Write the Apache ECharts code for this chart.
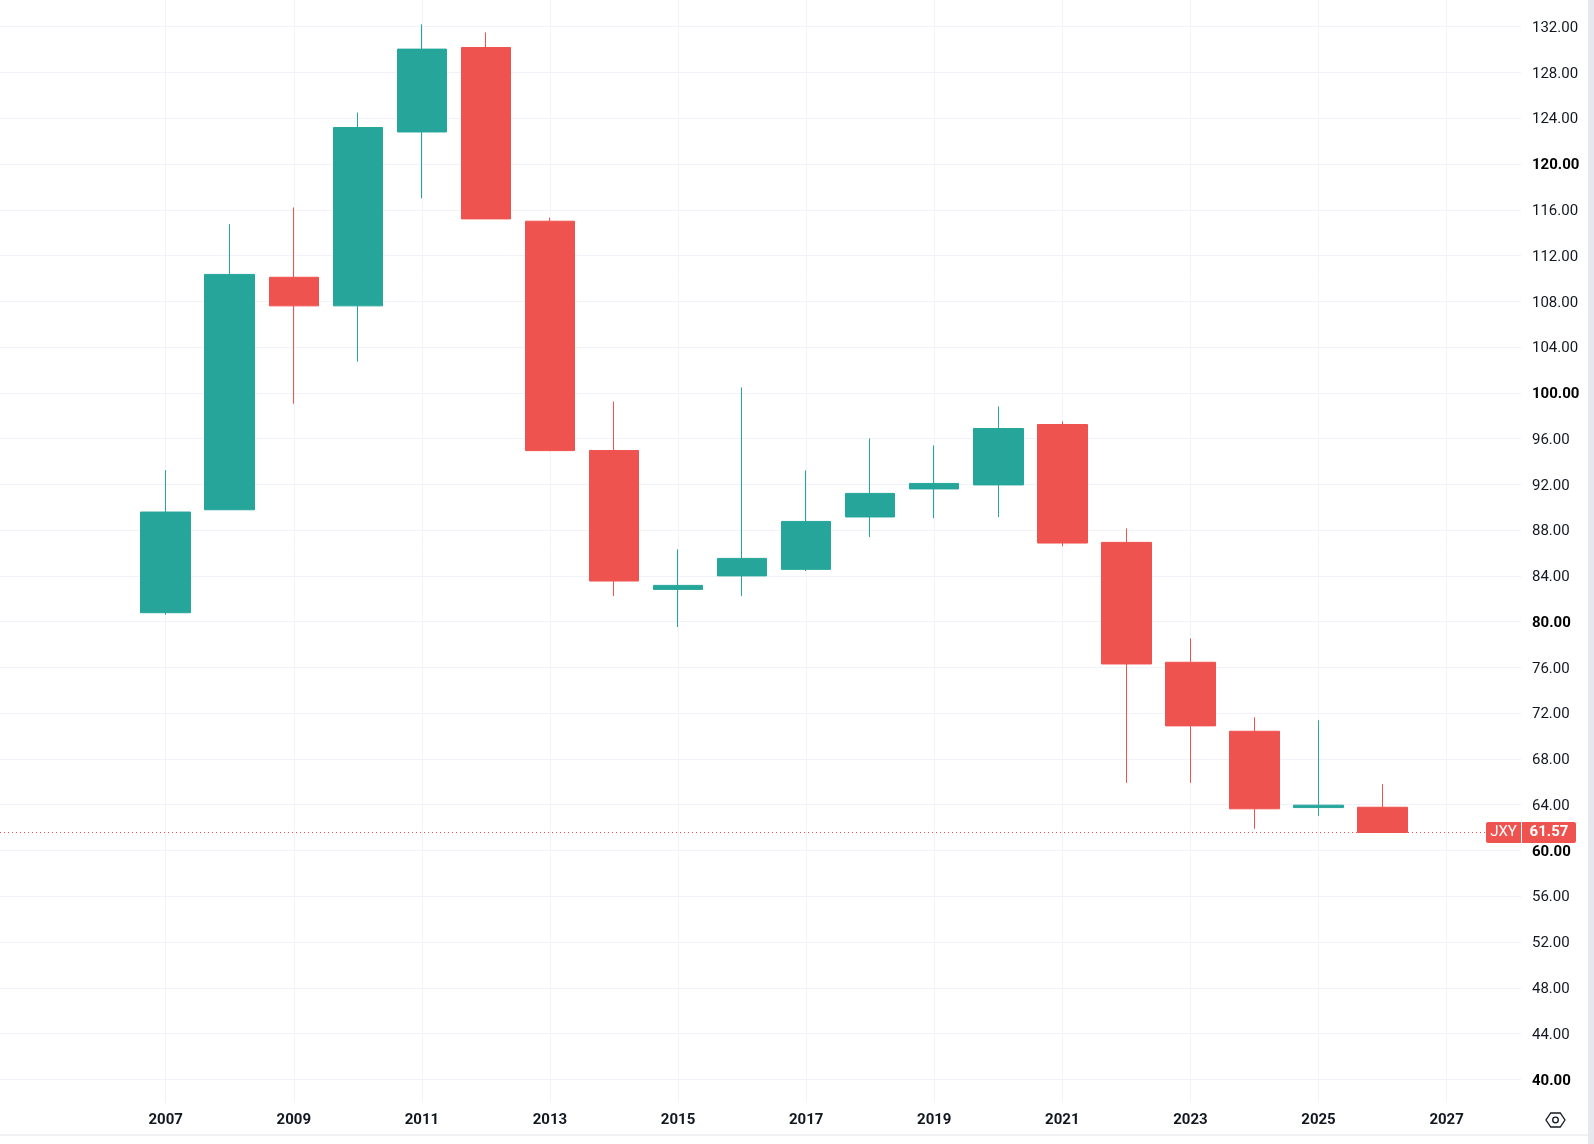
<!DOCTYPE html>
<html>
<head>
<meta charset="utf-8">
<script src="https://cdn.jsdelivr.net/npm/echarts@6.0.0/dist/echarts.min.js"></script>
<style>
    html, body { margin: 0; padding: 0; background: #ffffff; }
    #chart { width: 1594px; height: 1144px; }
</style>
</head>
<body>
<div id="chart"></div>
<script type="text/javascript">
    // yearly candles
    var years  = [2007, 2008, 2009, 2010, 2011, 2012, 2013, 2014, 2015, 2016, 2017, 2018, 2019, 2020, 2021, 2022, 2023, 2024, 2025, 2026];
    var opens  = [80.78, 89.78, 110.10, 107.60, 122.80, 130.18, 115.00, 94.96, 82.82, 84.00, 84.57, 89.15, 91.60, 91.95, 97.23, 86.93, 76.45, 70.42, 63.75, 63.78];
    var closes = [89.58, 110.35, 107.60, 123.19, 130.04, 115.20, 94.95, 83.55, 83.17, 85.53, 88.76, 91.21, 92.08, 96.88, 86.87, 76.30, 70.89, 63.64, 63.96, 61.57];
    var lows   = [80.60, 89.78, 99.05, 102.72, 117.00, 115.20, 94.90, 82.24, 79.53, 82.24, 84.43, 87.39, 89.05, 89.14, 86.60, 65.91, 65.91, 61.89, 63.03, 61.57];
    var highs  = [93.25, 114.74, 116.20, 124.50, 132.20, 131.50, 115.30, 99.24, 86.32, 100.47, 93.22, 96.01, 95.40, 98.81, 97.50, 88.15, 78.54, 71.64, 71.38, 65.80];

    var symbol = 'JXY';
    var priceMin = 40, priceMax = 132, priceStep = 4;
    var yearMin = 2007, yearMax = 2027, yearStep = 2;

    // pane layout (pixels)
    var W = 1594, H = 1144;
    var plotRight = 1521, plotBottom = 1103;
    var xFirst = 165.7, xLast = 1446.6;   // 2007 and 2027
    var yTop = 26.7, yBottom = 1079.3;    // 132 and 40

    var pxPerYear = (xLast - xFirst) / (yearMax - yearMin);
    var xMin = yearMin - xFirst / pxPerYear;
    var xMax = yearMin + (plotRight - xFirst) / pxPerYear;

    var up = '#26a69a', down = '#ef5350';
    var gridColor = '#f0f3fa', textColor = '#131722';

    var candles = years.map(function (y, i) {
        return [y, opens[i], closes[i], lows[i], highs[i]];
    });
    var last = closes[closes.length - 1];

    function hexPoints(cx, cy, r) {
        var pts = [];
        for (var k = 0; k < 6; k++) {
            var a = Math.PI / 3 * k;
            pts.push([cx + r * Math.cos(a), cy + r * 0.85 * Math.sin(a)]);
        }
        return pts;
    }

    var myChart = echarts.init(document.getElementById('chart'));

    var option = {
        animation: false,
        backgroundColor: '#ffffff',
        textStyle: { fontFamily: 'Roboto' },
        grid: [
            { left: 0, right: W - plotRight, top: yTop, bottom: H - yBottom, outerBoundsMode: 'none', containLabel: false },
            { left: xFirst, right: W - xLast, top: 0, bottom: H - plotBottom, outerBoundsMode: 'none', containLabel: false }
        ],
        xAxis: [
            { gridIndex: 0, type: 'value', min: xMin, max: xMax, show: false },
            {
                gridIndex: 1, type: 'value', min: yearMin, max: yearMax, interval: yearStep,
                axisLine: { show: false },
                axisTick: { show: false },
                splitLine: { show: true, lineStyle: { color: gridColor, width: 1 } },
                axisLabel: {
                    margin: 10, color: textColor, fontSize: 15, fontWeight: 'bold', fontFamily: 'Roboto',
                    formatter: function (v) { return String(v); }
                }
            }
        ],
        yAxis: [
            {
                gridIndex: 0, type: 'value', position: 'right',
                min: priceMin, max: priceMax, interval: priceStep,
                axisLine: { show: false },
                axisTick: { show: false },
                splitLine: { show: true, lineStyle: { color: gridColor, width: 1 } },
                axisLabel: {
                    margin: 11,
                    padding: [3, 0, 0, 0],
                    formatter: function (v) {
                        var s = v.toFixed(2);
                        return v % 20 === 0 ? '{b|' + s + '}' : '{n|' + s + '}';
                    },
                    rich: {
                        n: { fontSize: 15, color: textColor, fontFamily: 'Roboto' },
                        b: { fontSize: 15, color: '#000000', fontWeight: 'bold', fontFamily: 'Roboto' }
                    }
                }
            },
            { gridIndex: 1, type: 'value', min: 0, max: 1, show: false }
        ],
        graphic: [
            { type: 'line', silent: true, shape: { x1: 0, y1: 1135, x2: 1588, y2: 1135 }, style: { stroke: '#e0e3eb', lineWidth: 1 } },
            { type: 'rect', silent: true, shape: { x: 1588, y: 0, width: 6, height: H }, style: { fill: '#e6e8ee' } },
            { type: 'polygon', silent: true, shape: { points: hexPoints(1555.5, 1120, 9.5) }, style: { fill: 'none', stroke: textColor, lineWidth: 1.3 } },
            { type: 'circle', silent: true, shape: { cx: 1555.5, cy: 1120, r: 2.8 }, style: { fill: 'none', stroke: textColor, lineWidth: 1.3 } }
        ],
        series: [{
            type: 'candlestick',
            xAxisIndex: 0,
            yAxisIndex: 0,
            clip: false,
            barWidth: 50,
            data: candles,
            encode: { x: 0, y: [1, 2, 3, 4] },
            itemStyle: { color: up, color0: down, borderColor: up, borderColor0: down, borderWidth: 1 },
            markLine: {
                silent: true,
                symbol: ['none', 'none'],
                lineStyle: { color: down, type: [1, 3], width: 1 },
                label: {
                    show: true,
                    position: 'end',
                    distance: -35,
                    formatter: '{t|' + symbol + '}{s|}{p|' + last.toFixed(2) + '}',
                    rich: {
                        t: { width: 35, height: 21, lineHeight: 21, align: 'center', backgroundColor: down, borderRadius: [2, 0, 0, 2], color: '#ffffff', fontSize: 15, fontFamily: 'Roboto' },
                        s: { width: 1, height: 21, lineHeight: 21, backgroundColor: '#ffffff' },
                        p: { width: 54, height: 21, lineHeight: 21, align: 'center', backgroundColor: down, borderRadius: [0, 2, 2, 0], color: '#ffffff', fontSize: 15, fontWeight: 'bold', fontFamily: 'Roboto' }
                    }
                },
                data: [{ yAxis: last }]
            }
        }]
    };

    myChart.setOption(option);
</script>
</body>
</html>
